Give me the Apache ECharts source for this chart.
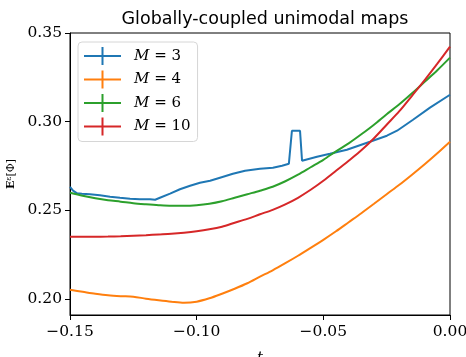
<!DOCTYPE html>
<html lang="en">
<head>
<meta charset="UTF-8">
<title>Globally-coupled unimodal maps</title>
<script src="https://cdn.jsdelivr.net/npm/echarts@6/dist/echarts.min.js"></script>
<style>
  html, body { margin: 0; padding: 0; background: #fff; }
</style>
</head>
<body>
<div id="main" style="width:466px;height:357px;"></div>
<script>
// shared t grid (step 0.005) for M = 4, 6, 10
var t = [-0.15, -0.145, -0.14, -0.135, -0.13, -0.125, -0.12, -0.115, -0.11, -0.105,
         -0.10, -0.095, -0.09, -0.085, -0.08, -0.075, -0.07, -0.065, -0.06, -0.055,
         -0.05, -0.045, -0.04, -0.035, -0.03, -0.025, -0.02, -0.015, -0.01, -0.005, 0];

var e4 = [0.2052, 0.2041, 0.2030, 0.2021, 0.2016, 0.2013, 0.2002, 0.1993, 0.1985, 0.1979,
          0.1985, 0.2004, 0.2030, 0.2058, 0.2089, 0.2126, 0.2162, 0.2202, 0.2244, 0.2289,
          0.2334, 0.2382, 0.2433, 0.2484, 0.2537, 0.2591, 0.2644, 0.2701, 0.2760, 0.2822, 0.2887];

var e6 = [0.2599, 0.2582, 0.2568, 0.2557, 0.2549, 0.2540, 0.2534, 0.2529, 0.2526, 0.2526,
          0.2529, 0.2537, 0.2551, 0.2571, 0.2591, 0.2611, 0.2633, 0.2664, 0.2701, 0.2743,
          0.2785, 0.2833, 0.2878, 0.2929, 0.2983, 0.3042, 0.3098, 0.3160, 0.3225, 0.3290, 0.3361];

var e10 = [0.2351, 0.2351, 0.2351, 0.2352, 0.2354, 0.2357, 0.2360, 0.2364, 0.2368, 0.2374,
           0.2382, 0.2393, 0.2408, 0.2430, 0.2452, 0.2478, 0.2503, 0.2534, 0.2571, 0.2616,
           0.2667, 0.2723, 0.2780, 0.2839, 0.2907, 0.2983, 0.3059, 0.3146, 0.3234, 0.3327, 0.3423];

// M = 3 has its own (irregular) sampling, incl. the spike near t = -0.06
var t3 = [-0.15, -0.1488, -0.1472, -0.1453, -0.1421, -0.1382, -0.1342, -0.1303, -0.1263, -0.1224,
          -0.1184, -0.1164, -0.1145, -0.1105, -0.1066, -0.1026, -0.0987, -0.0947, -0.0908, -0.0857,
          -0.0809, -0.0750, -0.0699, -0.0663, -0.0636, -0.0624, -0.0592, -0.0584, -0.0525, -0.0474,
          -0.0407, -0.0316, -0.0249, -0.0209, -0.0146, -0.0079, 0];
var e3 = [0.2633, 0.2611, 0.2596, 0.2594, 0.2591, 0.2585, 0.2577, 0.2571, 0.2565, 0.2563,
          0.2563, 0.2560, 0.2571, 0.2594, 0.2619, 0.2639, 0.2656, 0.2667, 0.2684, 0.2706,
          0.2723, 0.2735, 0.2740, 0.2752, 0.2763, 0.2949, 0.2949, 0.2780, 0.2802, 0.2819,
          0.2842, 0.2887, 0.2921, 0.2949, 0.3011, 0.3079, 0.3152];

var names = ['M = 3', 'M = 4', 'M = 6', 'M = 10'];
var colors = ['#1f77b4', '#ff7f0e', '#2ca02c', '#d62728'];

function pairs(xs, ys) {
    var res = [];
    for (var i = 0; i < xs.length; i++) res.push([xs[i], ys[i]]);
    return res;
}

function fmt(v) {
    if (Math.abs(v) < 1e-9) return '0.00';
    return (v < 0 ? '\u2212' : '') + Math.abs(v).toFixed(2);
}

var serif = 'DejaVu Serif';
var lines = [pairs(t3, e3), pairs(t, e4), pairs(t, e6), pairs(t, e10)];

var myChart = echarts.init(document.getElementById('main'), null, { renderer: 'canvas' });

var option = {
    animation: false,
    color: colors,
    title: {
        text: 'Globally-coupled unimodal maps',
        left: 260,
        textAlign: 'center',
        top: 5,
        textStyle: {
            fontFamily: 'DejaVu Sans',
            fontWeight: 'normal',
            fontSize: 17.5,
            color: '#000'
        }
    },
    grid: {
        left: 70, right: 16, top: 33, bottom: 42,
        show: true,
        borderColor: '#000',
        borderWidth: 1,
        outerBoundsMode: 'none'
    },
    legend: {
        orient: 'vertical',
        left: 78,
        top: 42,
        padding: [5, 7, 6, 6],
        itemGap: 5.5,
        itemWidth: 37,
        itemHeight: 18,
        icon: 'path://M0,8h37v2h-37z M17.5,0h2v18h-2z',
        backgroundColor: 'rgba(255,255,255,0.8)',
        borderColor: '#d6d6d6',
        borderWidth: 1,
        borderRadius: 4,
        data: names,
        formatter: function (name) {
            return '{i|M}' + name.slice(1);
        },
        textStyle: {
            fontFamily: serif,
            fontSize: 15,
            color: '#000',
            padding: [0, 0, 0, 8],
            rich: {
                i: { fontFamily: serif, fontStyle: 'italic', fontSize: 15, color: '#000' }
            }
        }
    },
    xAxis: {
        type: 'value',
        min: -0.15,
        max: 0,
        interval: 0.05,
        name: 't',
        nameLocation: 'middle',
        nameGap: 36,
        nameTextStyle: { fontFamily: serif, fontStyle: 'italic', fontSize: 15, color: '#000' },
        axisLine: { onZero: false, lineStyle: { color: '#000', width: 1 } },
        axisTick: { length: 5, lineStyle: { color: '#000' } },
        axisLabel: {
            margin: 9,
            fontFamily: serif,
            fontSize: 15.5,
            color: '#000',
            formatter: fmt
        },
        splitLine: { show: false }
    },
    yAxis: {
        type: 'value',
        position: 'left',
        min: 0.191,
        max: 0.35,
        splitNumber: 3,
        name: '{b|E}{s|\u03b5}[\u03a6]',
        nameLocation: 'middle',
        nameRotate: 90,
        nameGap: 52,
        nameTextStyle: {
            fontFamily: serif, fontSize: 11, color: '#000',
            rich: {
                b: { fontFamily: serif, fontWeight: 'bold', fontSize: 11, color: '#000' },
                s: { fontFamily: serif, fontSize: 8, color: '#000', verticalAlign: 'top', padding: [0, 0, 5, 0] }
            }
        },
        axisLine: { show: true, onZero: false, lineStyle: { color: '#000', width: 1 } },
        axisTick: { length: 5, lineStyle: { color: '#000' } },
        axisLabel: {
            margin: 8,
            fontFamily: serif,
            fontSize: 15.5,
            color: '#000',
            showMinLabel: false,
            formatter: fmt
        },
        splitLine: { show: false }
    },
    series: names.map(function (n, i) {
        return {
            name: n,
            type: 'line',
            data: lines[i],
            symbol: 'none',
            smooth: i === 0 ? false : 0.3,
            lineStyle: { width: 2, color: colors[i] },
            itemStyle: { color: colors[i] }
        };
    })
};

myChart.setOption(option);
</script>
</body>
</html>
